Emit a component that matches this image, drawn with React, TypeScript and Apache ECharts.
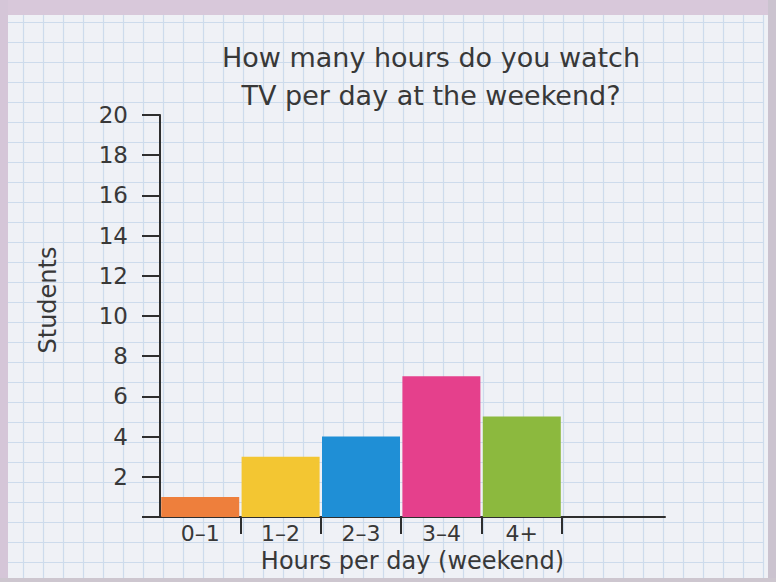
import React, { useEffect, useRef } from "react";
import * as echarts from "echarts";

// ---- data ----
const categories = ["0–1", "1–2", "2–3", "3–4", "4+"];
const students = [1, 3, 4, 7, 5];
const barColors = ["#ee7f3c", "#f3c632", "#1f8fd6", "#e5408c", "#8cb93e"];
const titleLines = ["How many hours do you watch", "TV per day at the weekend?"];
const xAxisTitle = "Hours per day (weekend)";
const yAxisTitle = "Students";
const yMin = 0;
const yMax = 20;
const yStep = 2;

// ---- styles ----
const FONT = "'DejaVu Sans', 'Noto Sans', sans-serif";
const TEXT = "#383838";
const AXIS = "#2e2e2e";
const PAPER = "#eff1f6";
const PAPER_LINE = "#cddbec";

export default function App() {
  const ref = useRef<HTMLDivElement>(null);

  useEffect(() => {
    if (!ref.current) return;
    const chart = echarts.init(ref.current, undefined, { renderer: "svg" });

    const option: any = {
      animation: false,
      backgroundColor: PAPER,
      grid: [
        // main chart (5 categories)
        { left: 160, top: 115, width: 402, height: 402, containLabel: false },
        // full-length x axis line + axis name
        { left: 160, top: 115, width: 505, height: 402, containLabel: false },
        // graph paper
        { left: 3, top: 2, width: 760, height: 580, containLabel: false },
      ],
      xAxis: [
        {
          type: "category",
          gridIndex: 0,
          data: categories,
          boundaryGap: true,
          axisLine: { show: false },
          axisTick: {
            show: true,
            length: 17,
            interval: (index: number) => index !== 0,
            lineStyle: { color: AXIS, width: 2 },
          },
          axisLabel: {
            margin: 5,
            color: TEXT,
            fontFamily: FONT,
            fontSize: 22,
          },
          splitLine: { show: false },
        },
        {
          type: "value",
          gridIndex: 1,
          min: 0,
          max: 1,
          axisLine: { show: true, lineStyle: { color: AXIS, width: 2 } },
          axisTick: { show: false },
          axisLabel: { show: false },
          splitLine: { show: false },
          name: xAxisTitle,
          nameLocation: "middle",
          nameGap: 32,
          nameTextStyle: { color: TEXT, fontFamily: FONT, fontSize: 24 },
        },
        {
          type: "value",
          gridIndex: 2,
          min: 0,
          max: 38,
          interval: 1,
          axisLine: { show: false },
          axisTick: { show: false },
          axisLabel: { show: false },
          splitLine: { show: true, lineStyle: { color: PAPER_LINE, width: 1.2 } },
          silent: true,
        },
      ],
      yAxis: [
        {
          type: "value",
          gridIndex: 0,
          min: yMin,
          max: yMax,
          interval: yStep,
          axisLine: { show: true, lineStyle: { color: AXIS, width: 2 } },
          axisTick: { show: true, length: 18, lineStyle: { color: AXIS, width: 2 } },
          axisLabel: {
            margin: 32,
            color: TEXT,
            fontFamily: FONT,
            fontSize: 23,
            formatter: (v: number) => (v === 0 ? "" : String(v)),
          },
          splitLine: { show: false },
        },
        { type: "value", gridIndex: 1, min: 0, max: 1, show: false },
        {
          type: "value",
          gridIndex: 2,
          min: 0,
          max: 29,
          interval: 1,
          axisLine: { show: false },
          axisTick: { show: false },
          axisLabel: { show: false },
          splitLine: { show: true, lineStyle: { color: PAPER_LINE, width: 1.2 } },
          silent: true,
        },
      ],
      series: [
        {
          type: "bar",
          xAxisIndex: 0,
          yAxisIndex: 0,
          barCategoryGap: "3%",
          data: students.map((v, i) => ({ value: v, itemStyle: { color: barColors[i] } })),
          z: 5,
        },
      ],
      graphic: [
        {
          type: "text",
          x: 431,
          y: 76,
          z: 50,
          style: {
            text: titleLines.join("\n"),
            fill: TEXT,
            fontFamily: FONT,
            fontSize: 27,
            lineHeight: 38,
            align: "center",
            verticalAlign: "middle",
            textAlign: "center",
            textVerticalAlign: "middle",
          },
        },
        {
          type: "text",
          x: 48,
          y: 300,
          rotation: Math.PI / 2,
          z: 50,
          style: {
            text: yAxisTitle,
            fill: TEXT,
            fontFamily: FONT,
            fontSize: 24,
            align: "center",
            verticalAlign: "middle",
            textAlign: "center",
            textVerticalAlign: "middle",
          },
        },
        // photo frame around the sheet of paper
        { type: "rect", z: 100, shape: { x: 0, y: 0, width: 776, height: 15 }, style: { fill: "#d8c8da" } },
        { type: "rect", z: 100, shape: { x: 0, y: 0, width: 8, height: 582 }, style: { fill: "#d5c6d8" } },
        { type: "rect", z: 100, shape: { x: 768, y: 0, width: 8, height: 582 }, style: { fill: "#cbc3cf" } },
        { type: "rect", z: 100, shape: { x: 0, y: 578, width: 776, height: 4 }, style: { fill: "#cdc6cf" } },
      ],
    };

    chart.setOption(option);
    return () => chart.dispose();
  }, []);

  return (
    <div
      ref={ref}
      style={{ position: "absolute", left: 0, top: 0, width: 776, height: 582 }}
    />
  );
}
